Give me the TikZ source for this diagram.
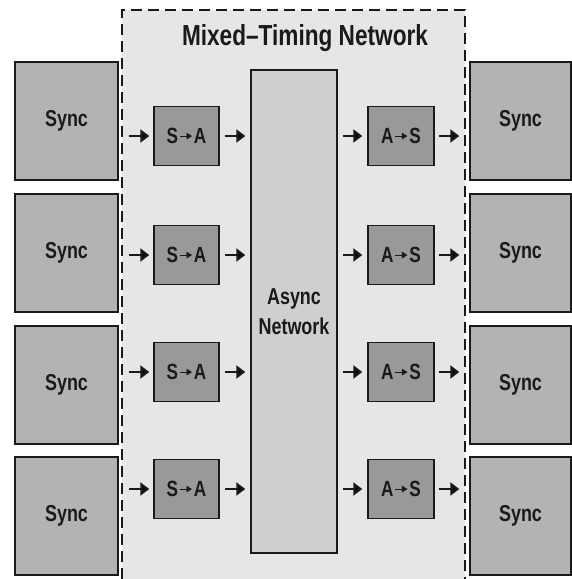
\documentclass[tikz,border=0pt]{standalone}
\usepackage{fontspec}
\newfontfamily\hv[FakeStretch=0.78]{Liberation Sans}
\usetikzlibrary{arrows.meta}
\definecolor{regionfill}{HTML}{E6E6E6}
\definecolor{syncfill}{HTML}{B3B3B3}
\definecolor{convfill}{HTML}{999999}
\definecolor{asyncfill}{HTML}{CFCFCF}
\definecolor{ink}{HTML}{1A1A1A}
\newcommand\myminiarr{\hspace{1.5pt}\tikz[baseline=-7.5pt]\draw[ink,line width=0.9pt,-{Triangle[length=5.5pt,width=6.5pt]}] (0pt,0pt) -- (12pt,0pt);\hspace{1.5pt}}
\tikzset{
  box/.style={draw=ink, line width=1.4pt, inner sep=0pt, text=ink, font=\hv\bfseries},
  syncbox/.style={box, fill=syncfill, minimum width=103pt, minimum height=118pt, font=\hv\bfseries\fontsize{23pt}{27pt}\selectfont},
  convbox/.style={box, fill=convfill, minimum width=65pt, minimum height=59pt, font=\hv\bfseries\fontsize{22pt}{26pt}\selectfont},
  asyncbox/.style={box, fill=asyncfill, minimum width=86pt, minimum height=483pt, align=center, font=\hv\bfseries\fontsize{23pt}{30pt}\selectfont},
  arr/.style={draw=ink, line width=2.5pt, -{Triangle[length=9pt,width=13pt]}},
  dashline/.style={draw=ink, line width=1.8pt, dash pattern=on 11pt off 6pt},
  titletext/.style={text=ink, font=\hv\bfseries\fontsize{29pt}{32pt}\selectfont}
}
\begin{document}
\begin{tikzpicture}[x=1pt,y=-1pt]
\useasboundingbox (0,0) rectangle (572,579);
\fill[regionfill] (122,10) rectangle (465,579);
\draw[dashline] (122,579) -- (122,10) -- (465,10) -- (465,579);
\node[titletext] (title) at (305,38) {Mixed–Timing Network};
\node[asyncbox] (an) at (294,311.5) {Async\\Network};
\foreach \i/\sy/\ay in {1/121/136, 2/253/255, 3/385/372, 4/516/489} {
  \node[syncbox] (ls\i) at (66.5,\sy) {Sync};
  \node[syncbox, minimum width=101pt] (rs\i) at (520.5,\sy) {Sync};
  \node[convbox] (sa\i) at (186.5,\ay) {S\myminiarr A};
  \node[convbox, minimum width=66pt] (as\i) at (401,\ay) {A\myminiarr S};
  \draw[arr, shorten <=10pt, shorten >=4pt] (ls\i.east |- sa\i.west) -- (sa\i.west);
  \draw[arr, shorten <=5pt, shorten >=5pt] (sa\i.east) -- (sa\i.east -| an.west);
  \draw[arr, shorten <=5pt, shorten >=5pt] (an.east |- as\i.west) -- (as\i.west);
  \draw[arr, shorten <=4pt, shorten >=10pt] (as\i.east) -- (as\i.east -| rs\i.west);
}
\end{tikzpicture}
\end{document}
